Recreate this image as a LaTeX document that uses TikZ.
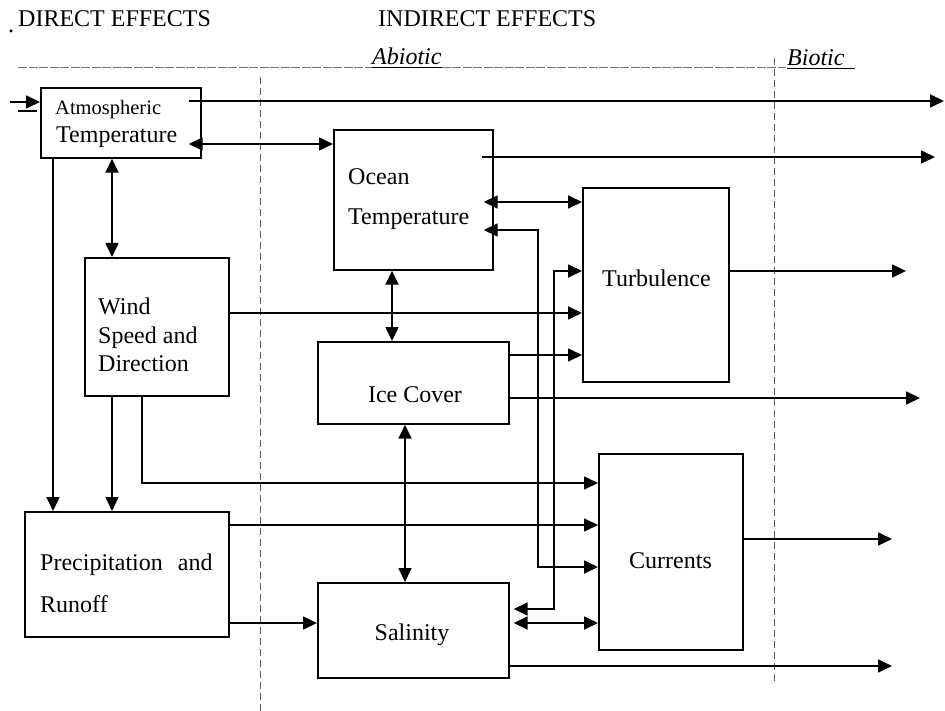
\documentclass[tikz,border=0pt]{standalone}
\usepackage{fontspec}
\setmainfont{Liberation Serif}
\usetikzlibrary{arrows.meta,calc}
\begin{document}
\begin{tikzpicture}[x=1pt,y=-1pt,
  box/.style={draw, line width=1.7pt, rectangle, inner sep=0pt, anchor=north west},
  ln/.style={line width=1.7pt},
  arr/.style={line width=1.7pt, -{Triangle[length=14pt,width=13pt]}},
  darr/.style={line width=1.7pt, {Triangle[length=14pt,width=13pt]}-{Triangle[length=14pt,width=13pt]}},
  txt/.style={font=\fontsize{24}{28}\selectfont, inner sep=0pt, anchor=base west},
  smalltxt/.style={font=\fontsize{20.5}{24}\selectfont, inner sep=0pt, anchor=base west},
  sepline/.style={line width=0.9pt, black!65, dash pattern=on 7pt off 4pt},
  rule/.style={line width=1pt, black!55, dash pattern=on 9pt off 1.5pt},
  uline/.style={line width=1pt, black}]
\useasboundingbox (0,0) rectangle (945,711);

% header
\node[txt] (dot) at (8,33) {.};
\node[txt] (direct) at (18,27) {DIRECT EFFECTS};
\node[txt] (indirect) at (378,27) {INDIRECT EFFECTS};
\node[txt, font=\fontsize{24}{28}\selectfont\itshape] (abiotic) at (372,65) {Abiotic};
\node[txt, font=\fontsize{24}{28}\selectfont\itshape] (biotic) at (787,66) {Biotic};
\draw[rule] (18,68) -- (abiotic.base west |- 0,68);
\draw[uline] (abiotic.base west |- 0,68) -- (abiotic.base east |- 0,68);
\draw[rule] (abiotic.base east |- 0,68) -- (786,68);
\draw[uline] (787,68.5) -- (855,68.5);

% separators
\draw[sepline] (260,77) -- (260,711);
\draw[sepline] (774,58) -- (774,685);

% boxes
\node[box, minimum width=160pt, minimum height=70pt] (AT) at (40,87) {};
\node[box, minimum width=159pt, minimum height=140pt] (OT) at (333,129) {};
\node[box, minimum width=146pt, minimum height=194pt] (TU) at (582,187) {};
\node[box, minimum width=144pt, minimum height=138pt] (WI) at (84,257) {};
\node[box, minimum width=191pt, minimum height=82pt] (IC) at (317,341) {};
\node[box, minimum width=204pt, minimum height=125pt] (PR) at (24,511) {};
\node[box, minimum width=191pt, minimum height=95pt] (SA) at (317,582) {};
\node[box, minimum width=144pt, minimum height=196pt] (CU) at (598,453) {};

% box texts
\node[smalltxt] (ATa) at (55,115) {Atmospheric};
\node[txt] (ATb) at (56,143) {Temperature};
\node[txt] (OTa) at (348,185) {Ocean};
\node[txt] (OTb) at (348,225) {Temperature};
\node[txt] (TUa) at (602,287) {Turbulence};
\node[txt] (WIa) at (98,315) {Wind};
\node[txt] (WIb) at (98,343) {Speed and};
\node[txt] (WIc) at (98,371) {Direction};
\node[txt, anchor=base] (ICa) at (415,402) {Ice Cover};
\node[txt] (PRa) at (40,570) {Precipitation\hspace{9pt} and};
\node[txt] (PRb) at (40,612) {Runoff};
\node[txt, anchor=base] (SAa) at (412,640) {Salinity};
\node[txt] (CUa) at (629,568) {Currents};

% free ends
\coordinate (inL) at (10,102);
\coordinate (outAT) at (944,101);
\coordinate (outOT) at (935,157);
\coordinate (outTU) at (906,271);
\coordinate (outIC) at (920,398);
\coordinate (outCU) at (892,539);
\coordinate (outSA) at (892,666);

% connectors
\draw[arr] (inL) -- (AT.west |- 0,102);
\draw[ln] (18,111) -- (37,111);
\draw[arr] ($(AT.east |- 0,101)+(-13,0)$) -- (outAT);
\draw[darr] ($(AT.east |- 0,144)+(-13,0)$) -- (OT.west |- 0,144);
\draw[darr] (AT.south -| 112,0) -- (WI.north -| 112,0);
\draw[arr] (AT.south -| 53,0) -- (PR.north -| 53,0);
\draw[arr] (WI.south -| 112,0) -- (PR.north -| 112,0);
\draw[arr] (WI.south -| 142,0) |- (CU.west |- 0,483);
\draw[arr] (WI.east |- 0,313) -- (TU.west |- 0,313);
\draw[arr] (PR.east |- 0,525) -- (CU.west |- 0,525);
\draw[arr] (PR.east |- 0,623) -- (SA.west |- 0,623);
\draw[arr] ($(OT.east |- 0,157)+(-12,0)$) -- (outOT);
\draw[darr] ($(OT.east |- 0,202)+(-10,0)$) -- (TU.west |- 0,202);
\draw[darr] ($(OT.east |- 0,230)+(-10,0)$) -- (538,230) |- (CU.west |- 0,567);
\draw[darr] (OT.south -| 392,0) -- (IC.north -| 392,0);
\draw[arr] (IC.east |- 0,355) -- (TU.west |- 0,355);
\draw[arr] (IC.east |- 0,398) -- (outIC);
\draw[darr] (IC.south -| 405,0) -- (SA.north -| 405,0);
\draw[darr] ($(SA.east |- 0,609)+(4,0)$) -- (554,609) |- (TU.west |- 0,271);
\draw[darr] ($(SA.east |- 0,623)+(4,0)$) -- (CU.west |- 0,623);
\draw[arr] (SA.east |- 0,666) -- (outSA);
\draw[arr] (TU.east |- 0,271) -- (outTU);
\draw[arr] (CU.east |- 0,539) -- (outCU);
\end{tikzpicture}
\end{document}
